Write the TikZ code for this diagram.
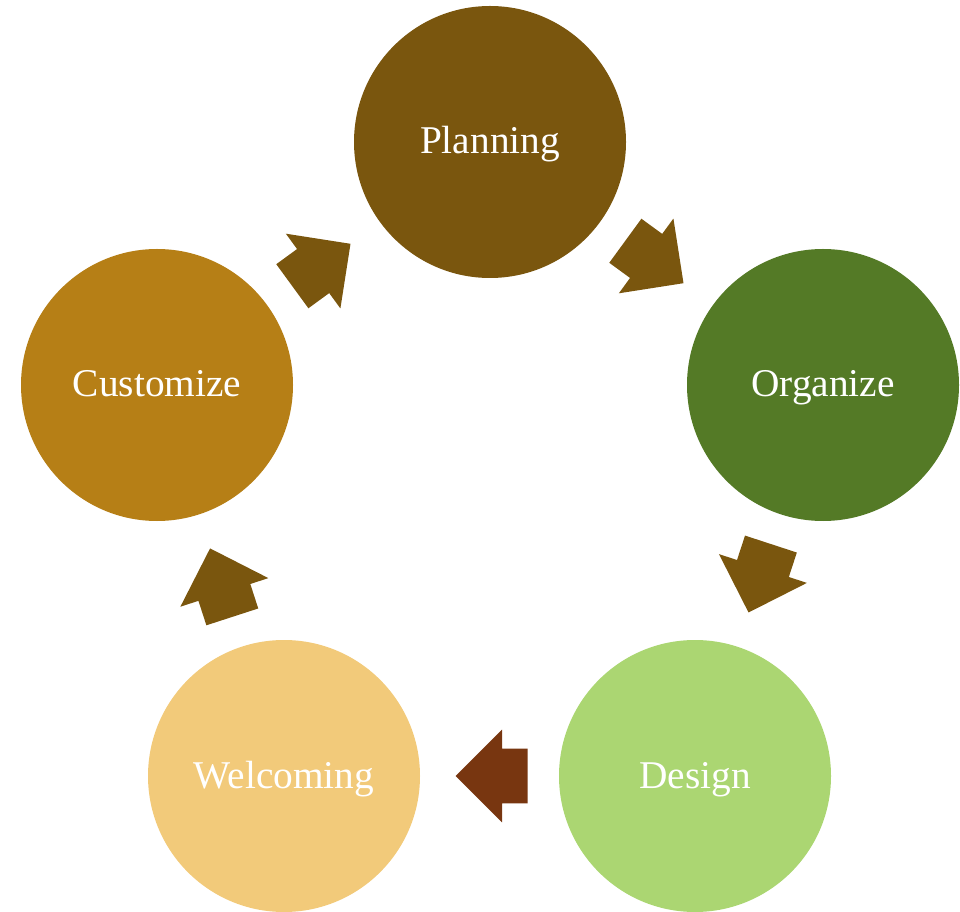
\documentclass[tikz,border=0pt]{standalone}
\usepackage{fontspec}
\setmainfont{Liberation Serif}
\usetikzlibrary{shapes.arrows,calc}
\definecolor{cPlan}{RGB}{122,86,14}
\definecolor{cOrg}{RGB}{84,122,38}
\definecolor{cDes}{RGB}{171,214,114}
\definecolor{cWel}{RGB}{242,202,122}
\definecolor{cCus}{RGB}{182,127,22}
\definecolor{cArr}{RGB}{122,86,14}
\definecolor{cArrB}{RGB}{120,54,16}
\tikzset{
  stage/.style={circle, minimum size=204pt, inner sep=0pt},
  label text/.style={text=white, font=\fontsize{29.5}{31}\selectfont, inner sep=0pt, anchor=base},
  blockarrow/.style={single arrow, sloped, allow upside down, fill=cArr, draw=none, minimum height=54pt,
     single arrow head extend=14.25pt, single arrow head indent=0pt, inner xsep=0pt, inner ysep=20.25pt,
     anchor=tail, pos=0.222}
}
\begin{document}
\begin{tikzpicture}[x=0.75pt,y=0.75pt]
\useasboundingbox (0,0) rectangle (960,-912);
\node[stage, fill=cPlan] (plan) at (490,-142) {};
\node[stage, fill=cOrg] (org) at (823,-385) {};
\node[stage, fill=cDes] (des) at (695,-776) {};
\node[stage, fill=cWel] (wel) at (284,-776) {};
\node[stage, fill=cCus] (cus) at (157,-385) {};
\node[label text] (tplan) at ($(plan.center)+(0,-12)$) {Planning};
\node[label text] (torg) at ($(org.center)+(0,-12)$) {Organize};
\node[label text] (tdes) at ($(des.center)+(0,-12)$) {Design};
\node[label text] (twel) at ($(wel.center)+(0,-12)$) {Welcoming};
\node[label text] (tcus) at ($(cus.center)+(0,-12)$) {Customize};
\path (plan) -- node[blockarrow] (a1) {} (org);
\path (org) -- node[blockarrow] (a2) {} (des);
\path (des) -- node[blockarrow, fill=cArrB] (a3) {} (wel);
\path (wel) -- node[blockarrow] (a4) {} (cus);
\path (cus) -- node[blockarrow] (a5) {} (plan);
\end{tikzpicture}
\end{document}
